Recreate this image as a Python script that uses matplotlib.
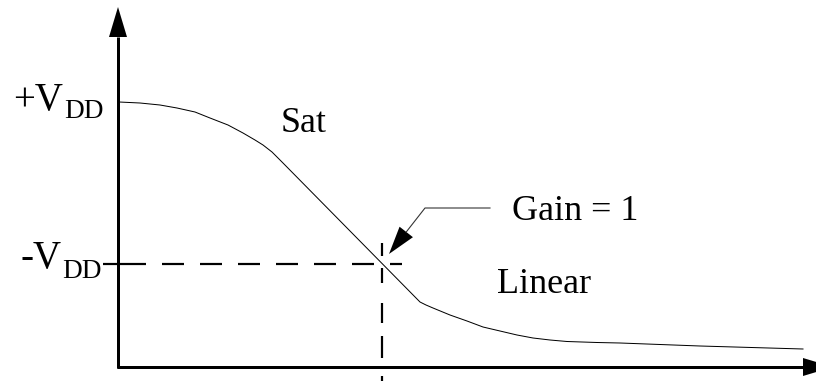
import numpy as np
import matplotlib
matplotlib.use("Agg")
import matplotlib.pyplot as plt

plt.rcParams['font.family'] = ['Liberation Serif', 'DejaVu Serif']
plt.rcParams['lines.scale_dashes'] = False

# transfer curve (pixel space, y grows downwards)
curve_x = [119, 140, 160, 177, 195, 210, 228, 243, 255, 263, 272, 282,
           420, 426, 433, 450, 467, 483, 500, 517, 533, 550, 567, 597,
           620, 700, 803]
curve_y = [102, 103, 105, 108, 112, 118, 125, 133, 140, 145, 152, 162,
           302, 305, 308, 315, 321, 327, 331, 335, 338, 340, 341.5, 342.5,
           343, 346, 349]

# operating point (gain = 1)
op_x = 382
op_y = 264

# axes frame
x0, y_axis_top = 118, 37
y0, x_axis_right = 367, 803

W, H = 816, 381
fig = plt.figure(figsize=(W / 100, H / 100), dpi=100)
ax = fig.add_axes([0, 0, 1, 1])
ax.set_xlim(0, W)
ax.set_ylim(H, 0)
ax.axis('off')

px = 0.72  # points per pixel

# axes with arrowheads
ax.plot([x0, x0], [y0 + 1, y_axis_top], color='black', lw=3 * px,
        solid_capstyle='butt')
ax.plot([x0 - 1, x_axis_right], [y0, y0], color='black', lw=3 * px,
        solid_capstyle='butt')
ax.fill([x0 - 9, x0 + 9, x0], [y_axis_top, y_axis_top, y_axis_top - 30],
        color='black', lw=0)
ax.fill([x_axis_right, x_axis_right, x_axis_right + 30],
        [y0 - 9, y0 + 9, y0], color='black', lw=0)

# curve
ax.plot(curve_x, curve_y, color='black', lw=1.0 * px)

# dashed guides
ax.plot([103, 124], [op_y, op_y], color='black', lw=2.2 * px,
        solid_capstyle='butt')
ax.plot([124, 402], [op_y, op_y], color='black', lw=2.2 * px,
        dashes=(22 * px, 16 * px), dash_capstyle='butt')
ax.plot([op_x, op_x], [243, H], color='black', lw=2.2 * px,
        dashes=(13 * px, 12 * px, 15 * px, 20 * px, 20 * px, 13 * px,
                22 * px, 18 * px), dash_capstyle='butt')

# "Gain = 1" pointer
tip = np.array([389.0, 254.0])
elbow = np.array([425.0, 208.0])
d = (elbow - tip) / np.hypot(*(elbow - tip))
n = np.array([-d[1], d[0]])
base = tip + d * 28
ax.plot([490, elbow[0], base[0]], [208, elbow[1], base[1]],
        color='#333333', lw=1.1 * px)
head = np.array([tip, base + n * 8.5, base - n * 8.5])
ax.fill(head[:, 0], head[:, 1], color='black', lw=0)

# supply labels, subscript set by hand
ax.text(63, 110, '+V', fontsize=28, ha='right', va='baseline')
ax.text(104, 118, 'DD', fontsize=19.6, ha='right', va='baseline')
ax.text(61, 268, '-V', fontsize=28, ha='right', va='baseline')
ax.text(102, 278, 'DD', fontsize=19.6, ha='right', va='baseline')

# region labels
ax.text(281, 132, 'Sat', fontsize=26, ha='left', va='baseline')
ax.text(512, 220, 'Gain = 1', fontsize=26, ha='left', va='baseline')
ax.text(497, 293, 'Linear', fontsize=26, ha='left', va='baseline')

fig.savefig('out.png', dpi=100)
